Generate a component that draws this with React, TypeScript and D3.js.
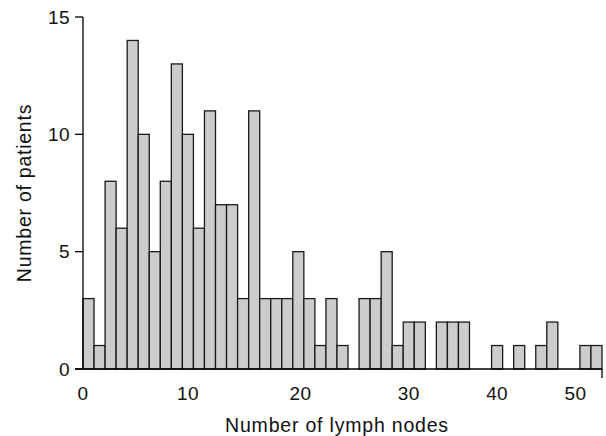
import React from 'react';
import * as d3 from 'd3';

// one bar per bin, left to right (counts)
const binCounts = [
  3, 1, 8, 6, 14, 10, 5, 8, 13, 10, 6, 11, 7, 7, 3, 11, 3, 3, 3, 5, 3, 1, 3, 1,
  0, 3, 3, 5, 1, 2, 2, 0, 2, 2, 2, 0, 0, 1, 0, 1, 0, 1, 2, 0, 0, 1, 1,
];

// x tick labels and where they sit, in bin units
const xTickLabels = ['0', '10', '20', '30', '40', '50'];
const xTickAt = [0, 9.5, 19.7, 29.5, 37.5, 44.6];

const yTicks = [0, 5, 10, 15];

const W = 606;
const H = 436;
const margin = { left: 83, right: 3, top: 17, bottom: 67 };
const font = '"Liberation Sans", Arial, sans-serif';

export default function App() {
  const x = d3
    .scaleLinear()
    .domain([0, binCounts.length])
    .range([margin.left, W - margin.right - 1]);
  const y = d3
    .scaleLinear()
    .domain([0, 15])
    .range([H - margin.bottom, margin.top]);

  const y0 = y(0);

  return (
    <svg
      width={W}
      height={H}
      style={{ position: 'absolute', left: 0, top: 0, background: '#fff' }}
      fontFamily={font}
    >
      {/* bars */}
      {binCounts.map((c, i) =>
        c > 0 ? (
          <rect
            key={i}
            x={x(i)}
            y={y(c)}
            width={x(i + 1) - x(i)}
            height={y0 - y(c)}
            fill="#cccccc"
            stroke="#1a1a1a"
            strokeWidth={1.3}
          />
        ) : null
      )}

      {/* y axis */}
      <line x1={margin.left} x2={margin.left} y1={y(15)} y2={y0} stroke="#000" strokeWidth={1.3} />
      {yTicks.map(t => (
        <g key={t}>
          <line x1={margin.left - 8} x2={margin.left} y1={y(t)} y2={y(t)} stroke="#000" strokeWidth={1.3} />
          <text
            x={margin.left - 13}
            y={y(t)}
            dy="0.35em"
            textAnchor="end"
            fontSize={19}
            letterSpacing={0.4}
            fill="#111"
          >
            {t}
          </text>
        </g>
      ))}

      {/* x axis */}
      <line x1={margin.left - 8} x2={x(binCounts.length)} y1={y0} y2={y0} stroke="#000" strokeWidth={1.3} />
      <line
        x1={x(binCounts.length)}
        x2={x(binCounts.length)}
        y1={y0}
        y2={y0 + 9}
        stroke="#000"
        strokeWidth={1.3}
      />
      {xTickLabels.map((lab, i) => (
        <text
          key={lab}
          x={x(xTickAt[i])}
          y={y0 + 31}
          textAnchor="middle"
          fontSize={19}
          letterSpacing={0.4}
          fill="#111"
        >
          {lab}
        </text>
      ))}

      {/* titles */}
      <text x={337} y={432} textAnchor="middle" fontSize={19.5} letterSpacing={0.8} fill="#111">
        Number of lymph nodes
      </text>
      <text
        transform={`translate(31,${(y(15) + y0) / 2}) rotate(-90)`}
        textAnchor="middle"
        fontSize={19.5}
        letterSpacing={0.75}
        fill="#111"
      >
        Number of patients
      </text>
    </svg>
  );
}
